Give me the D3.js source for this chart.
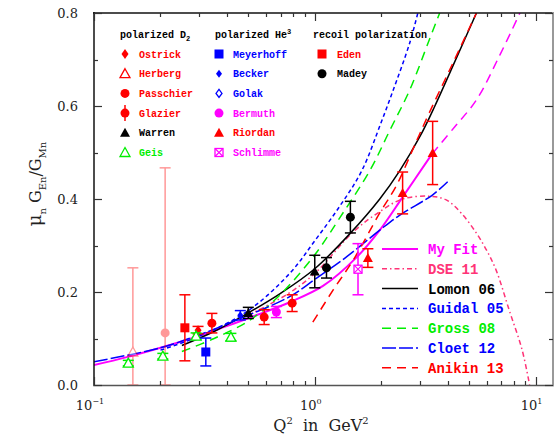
<!DOCTYPE html>
<html>
<head>
<meta charset="utf-8">
<script src="https://cdn.jsdelivr.net/npm/d3@7"></script>
<style>
  body { margin: 0; background: #fff; }
  .tick-label { font-family: "DejaVu Serif", serif; font-size: 13px; fill: #222; }
  .leg { font-family: "Liberation Mono", monospace; font-weight: bold; font-size: 10px; }
  .leg2 { font-family: "Liberation Mono", monospace; font-weight: bold; font-size: 14px; }
  .title { font-family: "DejaVu Serif", serif; font-size: 16px; fill: #222; }
</style>
</head>
<body>
<div id="chart"></div>
<script>
// data points: [Q2, value, error]
var ostrick   = [[0.296, 0.118, 0.008]];
var herberg   = [[0.15, 0.071, 0.181]];
var passchier = [[0.21, 0.112, 0.355]];
var glazier   = [[0.342, 0.133, 0.021], [0.59, 0.146, 0.016], [0.79, 0.176, 0.018]];
var warren    = [[0.5, 0.155, 0.012], [1.0, 0.244, 0.035]];
var geis      = [[0.143, 0.047, 0.006], [0.205, 0.062, 0.006], [0.29, 0.105, 0.007], [0.417, 0.103, 0.008]];
var meyerhoff = [[0.321, 0.071, 0.03]];
var becker    = [[0.46, 0.15, 0.01]];
var golak     = [];
var bermuth   = [[0.67, 0.157, 0.012]];
var riordan   = [[1.74, 0.273, 0.02], [2.5, 0.413, 0.045], [3.42, 0.499, 0.068]];
var schlimme  = [[1.57, 0.249, 0.055]];
var eden      = [[0.258, 0.123, 0.071]];
var madey     = [[1.13, 0.252, 0.022], [1.45, 0.361, 0.034]];

// curves
var myFitQ  = [0.1, 0.141, 0.2, 0.28, 0.39, 0.55, 0.77, 1.09, 1.55, 1.97, 2.5, 3.4];
var myFitG  = [0.043, 0.060, 0.080, 0.101, 0.125, 0.151, 0.178, 0.213, 0.275, 0.333, 0.404, 0.497];
var myFitExtQ = [3.4, 4.3, 5.4, 6.9, 8.5];
var myFitExtG = [0.497, 0.555, 0.613, 0.71, 0.80];
var dseQ    = [0.5, 0.75, 1.0, 1.5, 2.0, 2.5, 3.3, 3.94, 4.6, 5.39, 6.0, 6.63, 7.6, 8.7, 9.4];
var dseG    = [0.15, 0.195, 0.24, 0.33, 0.375, 0.400, 0.406, 0.398, 0.37, 0.327, 0.29, 0.247, 0.161, 0.075, 0.0];
var lomonQ  = [0.25, 0.35, 0.5, 0.7, 1.0, 1.44, 1.97, 2.42, 3.0, 3.5, 4.4, 5.4];
var lomonG  = [0.085, 0.115, 0.155, 0.197, 0.25, 0.325, 0.40, 0.46, 0.535, 0.60, 0.705, 0.80];
var guidalQ = [0.2, 0.3, 0.5, 0.77, 1.0, 1.3, 1.63, 2.0, 2.25, 2.69, 2.93];
var guidalG = [0.075, 0.105, 0.16, 0.24, 0.31, 0.385, 0.46, 0.565, 0.63, 0.735, 0.80];
var grossQ  = [0.25, 0.35, 0.51, 0.7, 1.0, 1.3, 1.78, 2.2, 2.69, 3.3, 3.68];
var grossG  = [0.072, 0.10, 0.14, 0.195, 0.28, 0.36, 0.462, 0.55, 0.634, 0.742, 0.80];
var cloetQ  = [0.1, 0.2, 0.3, 0.5, 0.77, 1.0, 1.37, 1.97, 2.42, 3.4, 4.0];
var cloetG  = [0.05, 0.08, 0.108, 0.15, 0.19, 0.227, 0.273, 0.333, 0.365, 0.408, 0.437];
var anikinQ = [0.98, 1.21, 1.5, 1.97, 2.35, 2.8, 3.3, 4.3, 5.4];
var anikinG = [0.135, 0.204, 0.27, 0.37, 0.43, 0.51, 0.585, 0.70, 0.80];

var yTicks = [0, 0.2, 0.4, 0.6, 0.8];
var xDecades = [0.1, 1, 10];
var xExps = ["\u22121", "0", "1"];

var width = 560, height = 443;
var svg = d3.select("#chart").append("svg")
  .attr("width", width)
  .attr("height", height);

var x = d3.scaleLog().domain([0.1, 12]).range([94, 553]);
var y = d3.scaleLinear().domain([0, 0.8]).range([385, 13]);

svg.append("clipPath").attr("id", "clip")
  .append("rect")
  .attr("x", 94).attr("y", 13).attr("width", 459).attr("height", 372);

var plot = svg.append("g").attr("clip-path", "url(#clip)");

var line = d3.line()
  .x(function(d) { return x(d[0]); })
  .y(function(d) { return y(d[1]); })
  .curve(d3.curveCatmullRom.alpha(0.5));

function zip(a, b) { return a.map(function(v, i) { return [v, b[i]]; }); }

var curves = [
  {name: "My Fit",    q: myFitQ,  g: myFitG,  color: "#ff00ff", dash: null,          w: 2},
  {name: "DSE 11",    q: dseQ,    g: dseG,    color: "#ff3377", dash: "5,3,1.5,3",   w: 1.5},
  {name: "Lomon 06",  q: lomonQ,  g: lomonG,  color: "#000000", dash: null,          w: 1.5},
  {name: "Guidal 05", q: guidalQ, g: guidalG, color: "#0000ff", dash: "4,3",         w: 1.5},
  {name: "Gross 08",  q: grossQ,  g: grossG,  color: "#00ee00", dash: "9,6",         w: 1.5},
  {name: "Cloet 12",  q: cloetQ,  g: cloetG,  color: "#0000ff", dash: "14,3",        w: 1.5},
  {name: "Anikin 13", q: anikinQ, g: anikinG, color: "#ff0000", dash: "9,6",         w: 1.5}
];

curves.forEach(function(c) {
  plot.append("path")
    .attr("d", line(zip(c.q, c.g)))
    .attr("fill", "none")
    .attr("stroke", c.color)
    .attr("stroke-width", c.w)
    .attr("stroke-dasharray", c.dash);
});

// extrapolated part of my fit
plot.append("path")
  .attr("d", line(zip(myFitExtQ, myFitExtG)))
  .attr("fill", "none")
  .attr("stroke", "#ff00ff")
  .attr("stroke-width", 1.5)
  .attr("stroke-dasharray", "9,6");

// markers
function marker(g, type, cx, cy, color) {
  var t = "translate(" + cx + "," + cy + ")";
  if (type == "diamond") {
    g.append("path").attr("d", "M0,-5L3.5,0L0,5L-3.5,0Z").attr("transform", t).attr("fill", color);
  } else if (type == "diamondSmall") {
    g.append("path").attr("d", "M0,-4L3,0L0,4L-3,0Z").attr("transform", t).attr("fill", color);
  } else if (type == "diamondOpen") {
    g.append("path").attr("d", "M0,-4L3,0L0,4L-3,0Z").attr("transform", t)
      .attr("fill", "#fff").attr("stroke", color).attr("stroke-width", 1.3);
  } else if (type == "triOpen") {
    g.append("path").attr("d", "M0,-5L5,4L-5,4Z").attr("transform", t)
      .attr("fill", "#fff").attr("stroke", color).attr("stroke-width", 1.3);
  } else if (type == "tri") {
    g.append("path").attr("d", "M0,-5L5,4L-5,4Z").attr("transform", t).attr("fill", color);
  } else if (type == "circle") {
    g.append("circle").attr("cx", cx).attr("cy", cy).attr("r", 4.5).attr("fill", color);
  } else if (type == "circleBar") {
    g.append("line").attr("x1", cx).attr("x2", cx).attr("y1", cy - 8).attr("y2", cy + 8)
      .attr("stroke", color).attr("stroke-width", 1.5);
    g.append("circle").attr("cx", cx).attr("cy", cy).attr("r", 4.5).attr("fill", color);
  } else if (type == "square") {
    g.append("rect").attr("x", cx - 4.5).attr("y", cy - 4.5).attr("width", 9).attr("height", 9).attr("fill", color);
  } else if (type == "boxX") {
    g.append("rect").attr("x", cx - 4).attr("y", cy - 4).attr("width", 8).attr("height", 8)
      .attr("fill", "#fff").attr("stroke", color).attr("stroke-width", 1.3);
    g.append("path").attr("d", "M-4,-4L4,4M-4,4L4,-4").attr("transform", t)
      .attr("stroke", color).attr("stroke-width", 1.1);
  }
}

var sets = [
  {name: "Ostrick",   data: ostrick,   type: "diamond",      color: "#ff0000", col: 0, row: 0},
  {name: "Herberg",   data: herberg,   type: "triOpen",      color: "#ff0000", col: 0, row: 1, faded: true},
  {name: "Passchier", data: passchier, type: "circle",       color: "#ff0000", col: 0, row: 2, faded: true},
  {name: "Glazier",   data: glazier,   type: "circle",       color: "#ff0000", col: 0, row: 3, legType: "circleBar"},
  {name: "Warren",    data: warren,    type: "tri",          color: "#000000", col: 0, row: 4},
  {name: "Geis",      data: geis,      type: "triOpen",      color: "#00ee00", col: 0, row: 5},
  {name: "Meyerhoff", data: meyerhoff, type: "square",       color: "#0000ff", col: 1, row: 0},
  {name: "Becker",    data: becker,    type: "diamondSmall", color: "#0000ff", col: 1, row: 1},
  {name: "Golak",     data: golak,     type: "diamondOpen",  color: "#0000ff", col: 1, row: 2},
  {name: "Bermuth",   data: bermuth,   type: "circle",       color: "#ff00ff", col: 1, row: 3},
  {name: "Riordan",   data: riordan,   type: "tri",          color: "#ff0000", col: 1, row: 4},
  {name: "Schlimme",  data: schlimme,  type: "boxX",         color: "#ff00ff", col: 1, row: 5},
  {name: "Eden",      data: eden,      type: "square",       color: "#ff0000", col: 2, row: 0},
  {name: "Madey",     data: madey,     type: "circle",       color: "#000000", col: 2, row: 1}
];

sets.forEach(function(s) {
  var g = plot.append("g").attr("opacity", s.faded ? 0.4 : 1);
  s.data.forEach(function(d) {
    var cx = x(d[0]), cy = y(d[1]);
    var yt = y(Math.min(0.8, d[1] + d[2])), yb = y(Math.max(0, d[1] - d[2]));
    g.append("line").attr("x1", cx).attr("x2", cx).attr("y1", yt).attr("y2", yb)
      .attr("stroke", s.color).attr("stroke-width", 1.5);
    [yt, yb].forEach(function(yy) {
      g.append("line").attr("x1", cx - 5.5).attr("x2", cx + 5.5).attr("y1", yy).attr("y2", yy)
        .attr("stroke", s.color).attr("stroke-width", 1.5);
    });
    marker(g, s.type, cx, cy, s.color);
  });
});

// frame
svg.append("line").attr("x1", 94).attr("x2", 94).attr("y1", 12).attr("y2", 386).attr("stroke", "#111").attr("stroke-width", 1.5);
svg.append("line").attr("x1", 93).attr("x2", 554).attr("y1", 13).attr("y2", 13).attr("stroke", "#111").attr("stroke-width", 1.5);
svg.append("line").attr("x1", 93).attr("x2", 554).attr("y1", 385.5).attr("y2", 385.5).attr("stroke", "#555").attr("stroke-width", 1.5);
svg.append("line").attr("x1", 553).attr("x2", 553).attr("y1", 12).attr("y2", 386).attr("stroke", "#999").attr("stroke-width", 2);

// x ticks (log, both sides)
x.ticks().forEach(function(v) {
  var major = xDecades.indexOf(v) >= 0;
  var len = major ? 8 : 4;
  var px = Math.round(x(v)) + 0.5;
  svg.append("line").attr("x1", px).attr("x2", px).attr("y1", 385).attr("y2", 385 - len).attr("stroke", "#333").attr("stroke-width", 1.2);
  svg.append("line").attr("x1", px).attr("x2", px).attr("y1", 13).attr("y2", 13 + len).attr("stroke", "#333").attr("stroke-width", 1.2);
});

// y ticks (both sides)
y.ticks(8).forEach(function(v) {
  var major = yTicks.some(function(t) { return Math.abs(t - v) < 1e-6; });
  var len = major ? 8 : 4;
  var py = Math.round(y(v)) + 0.5;
  svg.append("line").attr("x1", 94).attr("x2", 94 + len).attr("y1", py).attr("y2", py).attr("stroke", "#333").attr("stroke-width", 1.2);
  svg.append("line").attr("x1", 553).attr("x2", 553 - len).attr("y1", py).attr("y2", py).attr("stroke", "#333").attr("stroke-width", 1.2);
});

// tick labels
svg.selectAll(".ylab").data(yTicks).enter().append("text")
  .attr("class", "tick-label")
  .attr("x", 78)
  .attr("y", function(d) { return y(d) + 5; })
  .attr("text-anchor", "end")
  .text(function(d) { return d3.format(".1f")(d); });

xDecades.forEach(function(v, i) {
  var t = svg.append("text").attr("class", "tick-label")
    .attr("x", x(v) - 4).attr("y", 410).attr("text-anchor", "middle");
  t.append("tspan").text("10");
  t.append("tspan").attr("dy", -6).attr("font-size", 8).text(xExps[i]);
});

// axis titles
var xt1 = svg.append("text").attr("class", "title")
  .attr("x", 321).attr("y", 431).attr("text-anchor", "middle")
  .attr("font-size", 17);
xt1.append("tspan").text("Q");
xt1.append("tspan").attr("dy", -7).attr("font-size", 10).text("2");
xt1.append("tspan").attr("dy", 7).attr("xml:space", "preserve").text("  in  GeV");
xt1.append("tspan").attr("dy", -7).attr("font-size", 10).text("2");

var yt1 = svg.append("text").attr("class", "title")
  .attr("transform", "translate(41,184) rotate(-90)")
  .attr("text-anchor", "middle");
yt1.append("tspan").attr("font-size", 18).text("\u03bc");
yt1.append("tspan").attr("dy", 5).attr("font-size", 10).text("n");
yt1.append("tspan").attr("dy", -5).text(" G");
yt1.append("tspan").attr("dy", 5).attr("font-size", 10).text("En");
yt1.append("tspan").attr("dy", -5).text("/G");
yt1.append("tspan").attr("dy", 5).attr("font-size", 10).text("Mn");

// top-left legend
var colMarkX = [125, 219, 322], colTextX = [139, 233, 337];
var headers = [
  {x: 120, parts: [["polarized D", 0], ["2", 3]]},
  {x: 215, parts: [["polarized He", 0], ["3", -4]]},
  {x: 313, parts: [["recoil polarization", 0]]}
];
headers.forEach(function(h) {
  var t = svg.append("text").attr("class", "leg").attr("x", h.x).attr("y", 38).attr("fill", "#000");
  var base = 0;
  h.parts.forEach(function(p) {
    var sp = t.append("tspan").attr("dy", p[1] - base).text(p[0]);
    if (p[1] != 0) sp.attr("font-size", 7);
    base = p[1];
  });
});

var legG = svg.append("g");
sets.forEach(function(s) {
  var cy = 54 + s.row * 19.7;
  marker(legG, s.legType || s.type, colMarkX[s.col], cy, s.color);
  legG.append("text").attr("class", "leg")
    .attr("x", colTextX[s.col]).attr("y", cy + 3.5)
    .attr("fill", s.color)
    .text(s.name);
});

// bottom-right legend
curves.forEach(function(c, i) {
  var cy = 249 + i * 19.8;
  svg.append("line").attr("x1", 382).attr("x2", 418).attr("y1", cy).attr("y2", cy)
    .attr("stroke", c.color).attr("stroke-width", c.w).attr("stroke-dasharray", c.dash);
  svg.append("text").attr("class", "leg2")
    .attr("x", 428).attr("y", cy + 5)
    .attr("fill", c.color)
    .text(c.name);
});
</script>
</body>
</html>
